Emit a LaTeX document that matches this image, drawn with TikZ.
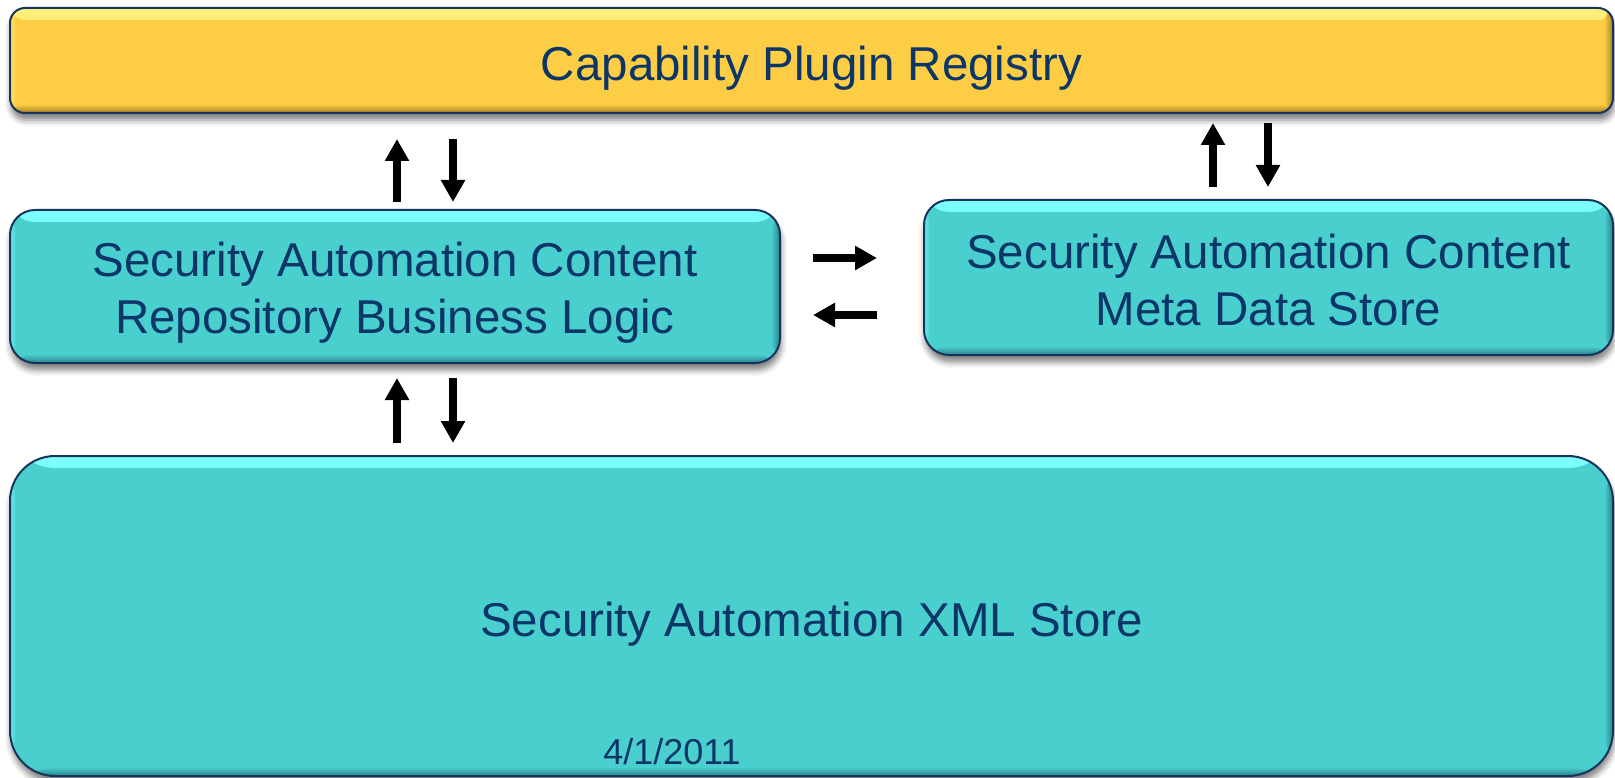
\documentclass[tikz,border=0pt]{standalone}
\usepackage{fontspec}
\setmainfont{Liberation Sans}
\usetikzlibrary{arrows.meta,shadows.blur}

\definecolor{gold}{RGB}{253,206,69}
\definecolor{goldhi}{RGB}{255,240,125}
\definecolor{goldlo}{RGB}{165,125,35}
\definecolor{boxteal}{RGB}{74,207,207}
\definecolor{tealhi}{RGB}{125,255,255}
\definecolor{teallo}{RGB}{40,130,135}
\definecolor{edge}{RGB}{22,52,92}
\definecolor{ink}{RGB}{12,54,104}

\newcommand\paneltext{\fontsize{47.5pt}{57pt}\selectfont}
\newcommand\datetext{\fontsize{36pt}{40pt}\selectfont}
% set a caption a little lower than the box centre, keeping its size
\newcommand\lowered[2]{\raisebox{-#1}[\height][\depth]{#2}}
\newcommand\twolines[2]{\begin{tabular}{@{}c@{}}#1\\#2\end{tabular}}

\tikzset{
  panel/.style={draw=edge, line width=2pt, outer sep=0pt, inner sep=0pt,
    rounded corners=#1, anchor=north west, align=center,
    font=\paneltext, text=ink,
    blur shadow={shadow xshift=1pt, shadow yshift=-7pt,
      shadow blur radius=6pt, shadow opacity=50}},
  bevel/.style n args={3}{fill=#1, path picture={
    \fill[top color=#2, bottom color=#1]
      (path picture bounding box.north west) rectangle
      ([yshift=-12pt]path picture bounding box.north east);
    \fill[left color=#2!60!#1, right color=#1]
      (path picture bounding box.north west) rectangle
      ([xshift=6pt]path picture bounding box.south west);
    \fill[top color=#1, bottom color=#3]
      ([yshift=9pt]path picture bounding box.south west) rectangle
      (path picture bounding box.south east);
    \fill[left color=#1, right color=#3]
      ([xshift=-9pt]path picture bounding box.north east) rectangle
      (path picture bounding box.south east);
  }},
  flow/.style={line width=8pt, line cap=butt,
    -{Triangle[width=23pt,length=22pt]}},
}

\begin{document}
\begin{tikzpicture}[x=1pt,y=-1pt]
  \useasboundingbox (0,0) rectangle (1615,778);

  % boxes
  \node[panel=15pt, bevel={gold}{goldhi}{goldlo},
        minimum width=1603pt, minimum height=105pt]
        (reg) at (10,8) {\lowered{8pt}{Capability Plugin Registry}};
  \node[panel=25pt, bevel={boxteal}{tealhi}{teallo},
        minimum width=770pt, minimum height=153pt]
        (logic) at (10,210)
        {\lowered{7pt}{\twolines{Security Automation Content}{Repository Business Logic}}};
  \node[panel=25pt, bevel={boxteal}{tealhi}{teallo},
        minimum width=689pt, minimum height=155pt]
        (meta) at (924,200)
        {\lowered{8pt}{\twolines{Security Automation Content}{Meta Data Store}}};
  \node[panel=45pt, bevel={boxteal}{tealhi}{teallo},
        minimum width=1603pt, minimum height=320pt]
        (xml) at (10,456) {\lowered{8pt}{Security Automation XML Store}};

  \node[font=\datetext, text=ink, inner sep=0pt] (date) at (672,752) {4/1/2011};

  % arrow columns and rows
  \coordinate (ca) at (397,0);
  \coordinate (cb) at (453,0);
  \coordinate (cc) at (1213,0);
  \coordinate (cd) at (1268,0);
  \coordinate (ra) at (0,258);
  \coordinate (rb) at (0,315);

  % registry <-> business logic
  \draw[flow, shorten <=8pt, shorten >=26pt] (logic.north -| ca) -- (reg.south -| ca);
  \draw[flow, shorten <=26pt, shorten >=8pt] (reg.south -| cb) -- (logic.north -| cb);

  % registry <-> meta data store
  \draw[flow, shorten <=13pt, shorten >=10pt] (meta.north -| cc) -- (reg.south -| cc);
  \draw[flow, shorten <=10pt, shorten >=13pt] (reg.south -| cd) -- (meta.north -| cd);

  % business logic <-> meta data store
  \draw[flow, shorten <=33pt, shorten >=47pt] (logic.east |- ra) -- (meta.west |- ra);
  \draw[flow, shorten <=47pt, shorten >=33pt] (meta.west |- rb) -- (logic.east |- rb);

  % business logic <-> XML store
  \draw[flow, shorten <=13pt, shorten >=15pt] (xml.north -| ca) -- (logic.south -| ca);
  \draw[flow, shorten <=15pt, shorten >=13pt] (logic.south -| cb) -- (xml.north -| cb);
\end{tikzpicture}
\end{document}
